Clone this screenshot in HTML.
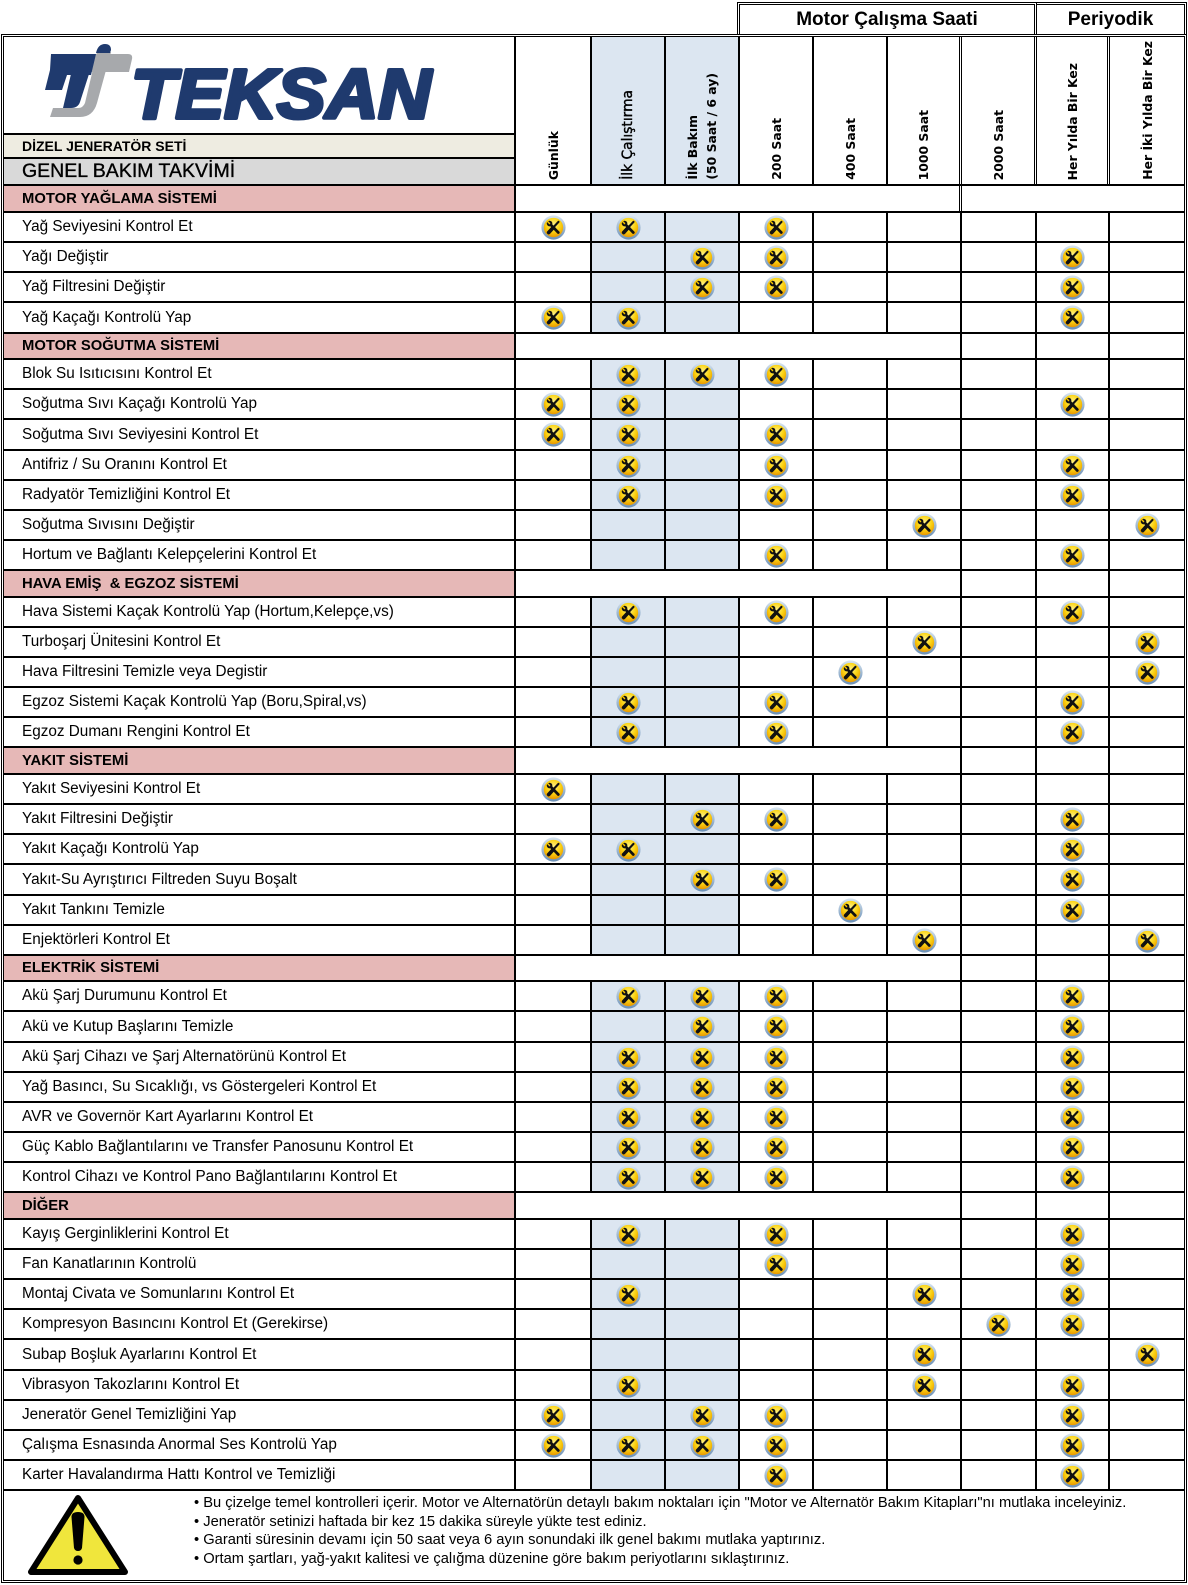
<!DOCTYPE html>
<html>
<head>
<meta charset="utf-8">
<style>
html,body{margin:0;padding:0;background:#fff}
body{width:1188px;height:1585px;position:relative;overflow:hidden;font-family:"Liberation Sans","DejaVu Sans",sans-serif;color:#000}
.abs{position:absolute}
.tbl{position:absolute;left:1px;top:34px;width:1186px;height:1549px;box-sizing:border-box;border:3px double #000}
.box{position:absolute;top:2px;height:33px;box-sizing:border-box;border:3px double #000;border-bottom:none;text-align:center;font-weight:bold;font-size:19px;line-height:29px;background:#fff}
.lh{position:absolute;left:4px;top:37px;width:512px;height:149px;box-sizing:border-box;border-right:2px solid #000;border-bottom:2px solid #000}
.lh .logo{height:96px;position:relative}
.lh .dz{height:24px;box-sizing:border-box;border-top:2px solid #000;background:#eeece1;font-weight:bold;font-size:14px;padding-left:18px;line-height:22px}
.lh .gn{height:27px;box-sizing:border-box;border-top:2px solid #000;background:#d9d9d9;font-size:19.5px;padding-left:18px;line-height:25px;-webkit-text-stroke:0.35px #000}
.hd{position:absolute;left:516px;top:37px;width:668px;height:149px;display:flex;box-sizing:border-box;border-bottom:2px solid #000}
.hd>div{box-sizing:border-box;border-right:2px solid #000;height:100%;display:flex;align-items:flex-end;justify-content:center;padding-bottom:4px;flex:none}
.hd>div:nth-child(1){width:76px}
.hd>div:nth-child(2),.hd>div:nth-child(3){width:74px;background:#dce6f1}
.hd>div:nth-child(4),.hd>div:nth-child(5){width:74px}
.hd>div:nth-child(6){width:74px;border-right:3px double #000}
.hd>div:nth-child(7){width:75px;border-right:3px double #000}
.hd>div:nth-child(8){width:73px;border-right:3px double #000}
.hd>div:nth-child(9){width:74px;border-right:none}
.v{writing-mode:vertical-rl;transform:rotate(180deg);font-family:"DejaVu Sans",sans-serif;font-weight:bold;font-size:12.4px;white-space:nowrap;line-height:19px}
.v.n{font-weight:normal;font-size:13.8px;-webkit-text-stroke:0.4px #000}
.r,.q{position:absolute;left:4px;width:1180px;display:flex;border-bottom:2px solid #000;box-sizing:border-box}
.r>div,.q>div{box-sizing:border-box;border-right:2px solid #000;height:100%;display:flex;align-items:center;justify-content:center;flex:none}
.r>div:nth-child(1){width:512px;justify-content:flex-start;padding-left:18px;font-size:15.3px;white-space:nowrap}
.r>div:nth-child(2){width:76px}
.r>div:nth-child(3),.r>div:nth-child(4){width:74px;background:#dce6f1}
.r>div:nth-child(5),.r>div:nth-child(6),.r>div:nth-child(7){width:74px}
.r>div:nth-child(8){width:75px}
.r>div:nth-child(9){width:73px}
.r>div:nth-child(10){width:74px;border-right:none}
.q>div:nth-child(1){width:512px;background:#e6b8b7;font-weight:bold;font-size:14.8px;padding-left:18px;justify-content:flex-start;white-space:pre}
.q>div:nth-child(2){width:446px}
.q>div:nth-child(3){width:75px}
.q>div:nth-child(4){width:73px}
.q>div:nth-child(5){width:74px;border-right:none}
.q1>div:nth-child(2){border-right:3px double #000}
.q1>div:nth-child(3){width:222px;border-right:none}
.k{width:25px;height:25px;display:block}
.notes{position:absolute;left:4px;top:1491px;width:1180px;height:89px}
.nt{position:absolute;left:190px;top:3px;font-size:14.7px;line-height:18.5px;white-space:nowrap}
</style>
</head>
<body>
<svg width="0" height="0" style="position:absolute;left:0;top:0">
<defs>
<linearGradient id="rim" x1="0" y1="0" x2="0" y2="1"><stop offset="0" stop-color="#d8e5f1"/><stop offset="1" stop-color="#6a8fb5"/></linearGradient>
<radialGradient id="gold" cx="0.5" cy="0.35" r="0.65"><stop offset="0" stop-color="#fff38a"/><stop offset="0.55" stop-color="#fbd312"/><stop offset="1" stop-color="#e89800"/></radialGradient>
<symbol id="k" viewBox="0 0 24 24">
<circle cx="12" cy="12" r="11.6" fill="url(#rim)"/>
<circle cx="12" cy="12" r="9.3" fill="url(#gold)"/>
<path d="M16.8 6.6 L11.6 12.1" stroke="#111" stroke-width="2" stroke-linecap="round"/>
<path d="M11.8 12 L7.4 16.8" stroke="#111" stroke-width="3.6" stroke-linecap="round"/>
<path d="M9.3 9.3 L16.6 16.8" stroke="#111" stroke-width="2.6" stroke-linecap="round"/>
<circle cx="8.2" cy="8.2" r="2.7" fill="#111"/>
<path d="M6.4 6.4 L8.2 8.2" stroke="#f7c400" stroke-width="1.4" stroke-linecap="round"/>
</symbol>
</defs>
</svg>

<div class="box" style="left:737px;width:300px">Motor Çalışma Saati</div>
<div class="box" style="left:1037px;width:150px;border-left:none">Periyodik</div>

<div class="tbl"></div>

<div class="lh">
 <div class="logo"></div>
 <div class="dz">DİZEL JENERATÖR SETİ</div>
 <div class="gn">GENEL BAKIM TAKVİMİ</div>
</div>

<svg class="abs" style="left:0;top:0" width="520" height="135" viewBox="0 0 520 135">
 <path d="M92,54 H128 Q133,54 132,59 L129,72 H88 Z" fill="#a7a9ac"/>
 <path d="M97,52 H111 L97,103 Q93,117 80,117 H50 L53,108 H78 Q83,108 85,103 Z" fill="#a7a9ac"/>
 <path d="M51,54 H96 L91,75 H67 L62,90 H45 L50,70 Z" fill="#1f3a6e"/>
 <path d="M71,74 L89,74 L80,102 Q78,108 71,108 L63,108 Z" fill="#1f3a6e"/>
 <path d="M96,53 Q98,44 105,44 Q111,44 111,50 L110,53 Z" fill="#1f3a6e"/>
 <text x="131" y="118" font-family="Liberation Sans, sans-serif" font-weight="bold" font-style="italic" font-size="70" fill="#1f3a6e" stroke="#1f3a6e" stroke-width="4" stroke-linejoin="round" textLength="300" lengthAdjust="spacingAndGlyphs">TEKSAN</text>
</svg>

<div class="hd">
 <div><span class="v">Günlük</span></div>
 <div><span class="v n">İlk Çalıştırma</span></div>
 <div><span class="v">İlk Bakım<br>(50 Saat / 6 ay)</span></div>
 <div><span class="v">200 Saat</span></div>
 <div><span class="v">400 Saat</span></div>
 <div><span class="v">1000 Saat</span></div>
 <div><span class="v">2000 Saat</span></div>
 <div><span class="v">Her Yılda Bir Kez</span></div>
 <div><span class="v">Her İki Yılda Bir Kez</span></div>
</div>

<!-- MOTOR YAĞLAMA -->
<div class="q q1" style="top:186px;height:27px"><div>MOTOR YAĞLAMA SİSTEMİ</div><div></div><div></div></div>
<div class="r" style="top:213px;height:30px"><div>Yağ Seviyesini Kontrol Et</div><div><svg class="k"><use href="#k"/></svg></div><div><svg class="k"><use href="#k"/></svg></div><div></div><div><svg class="k"><use href="#k"/></svg></div><div></div><div></div><div></div><div></div><div></div></div>
<div class="r" style="top:243px;height:30px"><div>Yağı Değiştir</div><div></div><div></div><div><svg class="k"><use href="#k"/></svg></div><div><svg class="k"><use href="#k"/></svg></div><div></div><div></div><div></div><div><svg class="k"><use href="#k"/></svg></div><div></div></div>
<div class="r" style="top:273px;height:30px"><div>Yağ Filtresini Değiştir</div><div></div><div></div><div><svg class="k"><use href="#k"/></svg></div><div><svg class="k"><use href="#k"/></svg></div><div></div><div></div><div></div><div><svg class="k"><use href="#k"/></svg></div><div></div></div>
<div class="r" style="top:303px;height:31px"><div>Yağ Kaçağı Kontrolü Yap</div><div><svg class="k"><use href="#k"/></svg></div><div><svg class="k"><use href="#k"/></svg></div><div></div><div></div><div></div><div></div><div></div><div><svg class="k"><use href="#k"/></svg></div><div></div></div>

<!-- MOTOR SOĞUTMA -->
<div class="q" style="top:334px;height:26px"><div>MOTOR SOĞUTMA SİSTEMİ</div><div></div><div></div><div></div><div></div></div>
<div class="r" style="top:360px;height:30px"><div>Blok Su Isıtıcısını Kontrol Et</div><div></div><div><svg class="k"><use href="#k"/></svg></div><div><svg class="k"><use href="#k"/></svg></div><div><svg class="k"><use href="#k"/></svg></div><div></div><div></div><div></div><div></div><div></div></div>
<div class="r" style="top:390px;height:30px"><div>Soğutma Sıvı Kaçağı Kontrolü Yap</div><div><svg class="k"><use href="#k"/></svg></div><div><svg class="k"><use href="#k"/></svg></div><div></div><div></div><div></div><div></div><div></div><div><svg class="k"><use href="#k"/></svg></div><div></div></div>
<div class="r" style="top:420px;height:31px"><div>Soğutma Sıvı Seviyesini Kontrol Et</div><div><svg class="k"><use href="#k"/></svg></div><div><svg class="k"><use href="#k"/></svg></div><div></div><div><svg class="k"><use href="#k"/></svg></div><div></div><div></div><div></div><div></div><div></div></div>
<div class="r" style="top:451px;height:30px"><div>Antifriz / Su Oranını Kontrol Et</div><div></div><div><svg class="k"><use href="#k"/></svg></div><div></div><div><svg class="k"><use href="#k"/></svg></div><div></div><div></div><div></div><div><svg class="k"><use href="#k"/></svg></div><div></div></div>
<div class="r" style="top:481px;height:30px"><div>Radyatör Temizliğini Kontrol Et</div><div></div><div><svg class="k"><use href="#k"/></svg></div><div></div><div><svg class="k"><use href="#k"/></svg></div><div></div><div></div><div></div><div><svg class="k"><use href="#k"/></svg></div><div></div></div>
<div class="r" style="top:511px;height:30px"><div>Soğutma Sıvısını Değiştir</div><div></div><div></div><div></div><div></div><div></div><div><svg class="k"><use href="#k"/></svg></div><div></div><div></div><div><svg class="k"><use href="#k"/></svg></div></div>
<div class="r" style="top:541px;height:30px"><div>Hortum ve Bağlantı Kelepçelerini Kontrol Et</div><div></div><div></div><div></div><div><svg class="k"><use href="#k"/></svg></div><div></div><div></div><div></div><div><svg class="k"><use href="#k"/></svg></div><div></div></div>

<!-- HAVA -->
<div class="q" style="top:571px;height:27px"><div>HAVA EMİŞ  &amp; EGZOZ SİSTEMİ</div><div></div><div></div><div></div><div></div></div>
<div class="r" style="top:598px;height:30px"><div>Hava Sistemi Kaçak Kontrolü Yap (Hortum,Kelepçe,vs)</div><div></div><div><svg class="k"><use href="#k"/></svg></div><div></div><div><svg class="k"><use href="#k"/></svg></div><div></div><div></div><div></div><div><svg class="k"><use href="#k"/></svg></div><div></div></div>
<div class="r" style="top:628px;height:30px"><div>Turboşarj Ünitesini Kontrol Et</div><div></div><div></div><div></div><div></div><div></div><div><svg class="k"><use href="#k"/></svg></div><div></div><div></div><div><svg class="k"><use href="#k"/></svg></div></div>
<div class="r" style="top:658px;height:30px"><div>Hava Filtresini Temizle veya Degistir</div><div></div><div></div><div></div><div></div><div><svg class="k"><use href="#k"/></svg></div><div></div><div></div><div></div><div><svg class="k"><use href="#k"/></svg></div></div>
<div class="r" style="top:688px;height:30px"><div>Egzoz Sistemi Kaçak Kontrolü Yap (Boru,Spiral,vs)</div><div></div><div><svg class="k"><use href="#k"/></svg></div><div></div><div><svg class="k"><use href="#k"/></svg></div><div></div><div></div><div></div><div><svg class="k"><use href="#k"/></svg></div><div></div></div>
<div class="r" style="top:718px;height:30px"><div>Egzoz Dumanı Rengini Kontrol Et</div><div></div><div><svg class="k"><use href="#k"/></svg></div><div></div><div><svg class="k"><use href="#k"/></svg></div><div></div><div></div><div></div><div><svg class="k"><use href="#k"/></svg></div><div></div></div>

<!-- YAKIT -->
<div class="q" style="top:748px;height:27px"><div>YAKIT SİSTEMİ</div><div></div><div></div><div></div><div></div></div>
<div class="r" style="top:775px;height:30px"><div>Yakıt Seviyesini Kontrol Et</div><div><svg class="k"><use href="#k"/></svg></div><div></div><div></div><div></div><div></div><div></div><div></div><div></div><div></div></div>
<div class="r" style="top:805px;height:30px"><div>Yakıt Filtresini Değiştir</div><div></div><div></div><div><svg class="k"><use href="#k"/></svg></div><div><svg class="k"><use href="#k"/></svg></div><div></div><div></div><div></div><div><svg class="k"><use href="#k"/></svg></div><div></div></div>
<div class="r" style="top:835px;height:30px"><div>Yakıt Kaçağı Kontrolü Yap</div><div><svg class="k"><use href="#k"/></svg></div><div><svg class="k"><use href="#k"/></svg></div><div></div><div></div><div></div><div></div><div></div><div><svg class="k"><use href="#k"/></svg></div><div></div></div>
<div class="r" style="top:865px;height:31px"><div>Yakıt-Su Ayrıştırıcı Filtreden Suyu Boşalt</div><div></div><div></div><div><svg class="k"><use href="#k"/></svg></div><div><svg class="k"><use href="#k"/></svg></div><div></div><div></div><div></div><div><svg class="k"><use href="#k"/></svg></div><div></div></div>
<div class="r" style="top:896px;height:30px"><div>Yakıt Tankını Temizle</div><div></div><div></div><div></div><div></div><div><svg class="k"><use href="#k"/></svg></div><div></div><div></div><div><svg class="k"><use href="#k"/></svg></div><div></div></div>
<div class="r" style="top:926px;height:30px"><div>Enjektörleri Kontrol Et</div><div></div><div></div><div></div><div></div><div></div><div><svg class="k"><use href="#k"/></svg></div><div></div><div></div><div><svg class="k"><use href="#k"/></svg></div></div>

<!-- ELEKTRİK -->
<div class="q" style="top:956px;height:26px"><div>ELEKTRİK SİSTEMİ</div><div></div><div></div><div></div><div></div></div>
<div class="r" style="top:982px;height:30px"><div>Akü Şarj Durumunu Kontrol Et</div><div></div><div><svg class="k"><use href="#k"/></svg></div><div><svg class="k"><use href="#k"/></svg></div><div><svg class="k"><use href="#k"/></svg></div><div></div><div></div><div></div><div><svg class="k"><use href="#k"/></svg></div><div></div></div>
<div class="r" style="top:1012px;height:31px"><div>Akü ve Kutup Başlarını Temizle</div><div></div><div></div><div><svg class="k"><use href="#k"/></svg></div><div><svg class="k"><use href="#k"/></svg></div><div></div><div></div><div></div><div><svg class="k"><use href="#k"/></svg></div><div></div></div>
<div class="r" style="top:1043px;height:30px"><div>Akü Şarj Cihazı ve Şarj Alternatörünü Kontrol Et</div><div></div><div><svg class="k"><use href="#k"/></svg></div><div><svg class="k"><use href="#k"/></svg></div><div><svg class="k"><use href="#k"/></svg></div><div></div><div></div><div></div><div><svg class="k"><use href="#k"/></svg></div><div></div></div>
<div class="r" style="top:1073px;height:30px"><div>Yağ Basıncı, Su Sıcaklığı, vs Göstergeleri Kontrol Et</div><div></div><div><svg class="k"><use href="#k"/></svg></div><div><svg class="k"><use href="#k"/></svg></div><div><svg class="k"><use href="#k"/></svg></div><div></div><div></div><div></div><div><svg class="k"><use href="#k"/></svg></div><div></div></div>
<div class="r" style="top:1103px;height:30px"><div>AVR ve Governör Kart Ayarlarını Kontrol Et</div><div></div><div><svg class="k"><use href="#k"/></svg></div><div><svg class="k"><use href="#k"/></svg></div><div><svg class="k"><use href="#k"/></svg></div><div></div><div></div><div></div><div><svg class="k"><use href="#k"/></svg></div><div></div></div>
<div class="r" style="top:1133px;height:30px"><div>Güç Kablo Bağlantılarını ve Transfer Panosunu Kontrol Et</div><div></div><div><svg class="k"><use href="#k"/></svg></div><div><svg class="k"><use href="#k"/></svg></div><div><svg class="k"><use href="#k"/></svg></div><div></div><div></div><div></div><div><svg class="k"><use href="#k"/></svg></div><div></div></div>
<div class="r" style="top:1163px;height:30px"><div>Kontrol Cihazı ve Kontrol Pano Bağlantılarını Kontrol Et</div><div></div><div><svg class="k"><use href="#k"/></svg></div><div><svg class="k"><use href="#k"/></svg></div><div><svg class="k"><use href="#k"/></svg></div><div></div><div></div><div></div><div><svg class="k"><use href="#k"/></svg></div><div></div></div>

<!-- DİĞER -->
<div class="q" style="top:1193px;height:27px"><div>DİĞER</div><div></div><div></div><div></div><div></div></div>
<div class="r" style="top:1220px;height:30px"><div>Kayış Gerginliklerini Kontrol Et</div><div></div><div><svg class="k"><use href="#k"/></svg></div><div></div><div><svg class="k"><use href="#k"/></svg></div><div></div><div></div><div></div><div><svg class="k"><use href="#k"/></svg></div><div></div></div>
<div class="r" style="top:1250px;height:30px"><div>Fan Kanatlarının Kontrolü</div><div></div><div></div><div></div><div><svg class="k"><use href="#k"/></svg></div><div></div><div></div><div></div><div><svg class="k"><use href="#k"/></svg></div><div></div></div>
<div class="r" style="top:1280px;height:30px"><div>Montaj Civata ve Somunlarını Kontrol Et</div><div></div><div><svg class="k"><use href="#k"/></svg></div><div></div><div></div><div></div><div><svg class="k"><use href="#k"/></svg></div><div></div><div><svg class="k"><use href="#k"/></svg></div><div></div></div>
<div class="r" style="top:1310px;height:30px"><div>Kompresyon Basıncını Kontrol Et (Gerekirse)</div><div></div><div></div><div></div><div></div><div></div><div></div><div><svg class="k"><use href="#k"/></svg></div><div><svg class="k"><use href="#k"/></svg></div><div></div></div>
<div class="r" style="top:1340px;height:31px"><div>Subap Boşluk Ayarlarını Kontrol Et</div><div></div><div></div><div></div><div></div><div></div><div><svg class="k"><use href="#k"/></svg></div><div></div><div></div><div><svg class="k"><use href="#k"/></svg></div></div>
<div class="r" style="top:1371px;height:30px"><div>Vibrasyon Takozlarını Kontrol Et</div><div></div><div><svg class="k"><use href="#k"/></svg></div><div></div><div></div><div></div><div><svg class="k"><use href="#k"/></svg></div><div></div><div><svg class="k"><use href="#k"/></svg></div><div></div></div>
<div class="r" style="top:1401px;height:30px"><div>Jeneratör Genel Temizliğini Yap</div><div><svg class="k"><use href="#k"/></svg></div><div></div><div><svg class="k"><use href="#k"/></svg></div><div><svg class="k"><use href="#k"/></svg></div><div></div><div></div><div></div><div><svg class="k"><use href="#k"/></svg></div><div></div></div>
<div class="r" style="top:1431px;height:30px"><div>Çalışma Esnasında Anormal Ses Kontrolü Yap</div><div><svg class="k"><use href="#k"/></svg></div><div><svg class="k"><use href="#k"/></svg></div><div><svg class="k"><use href="#k"/></svg></div><div><svg class="k"><use href="#k"/></svg></div><div></div><div></div><div></div><div><svg class="k"><use href="#k"/></svg></div><div></div></div>
<div class="r" style="top:1461px;height:30px"><div>Karter Havalandırma Hattı Kontrol ve Temizliği</div><div></div><div></div><div></div><div><svg class="k"><use href="#k"/></svg></div><div></div><div></div><div></div><div><svg class="k"><use href="#k"/></svg></div><div></div></div>

<div class="notes">
 <div class="nt">• Bu çizelge temel kontrolleri içerir. Motor ve Alternatörün detaylı bakım noktaları için "Motor ve Alternatör Bakım Kitapları"nı mutlaka inceleyiniz.<br>• Jeneratör setinizi haftada bir kez 15 dakika süreyle yükte test ediniz.<br>• Garanti süresinin devamı için 50 saat veya 6 ayın sonundaki ilk genel bakımı mutlaka yaptırınız.<br>• Ortam şartları, yağ-yakıt kalitesi ve çalığma düzenine göre bakım periyotlarını sıklaştırınız.</div>
</div>

<svg class="abs" style="left:0;top:1485px" width="160" height="100" viewBox="0 1485 160 100">
 <path d="M78,1498 L31,1572 L125,1572 Z" fill="#f0e63c" stroke="#000" stroke-width="6" stroke-linejoin="round"/>
 <path d="M71.5,1517 Q71.5,1512 78,1512 Q84.5,1512 84.5,1517 L82,1548 Q81,1551 78,1551 Q75,1551 74,1548 Z" fill="#000"/>
 <circle cx="78" cy="1560" r="4.6" fill="#000"/>
</svg>

</body>
</html>
